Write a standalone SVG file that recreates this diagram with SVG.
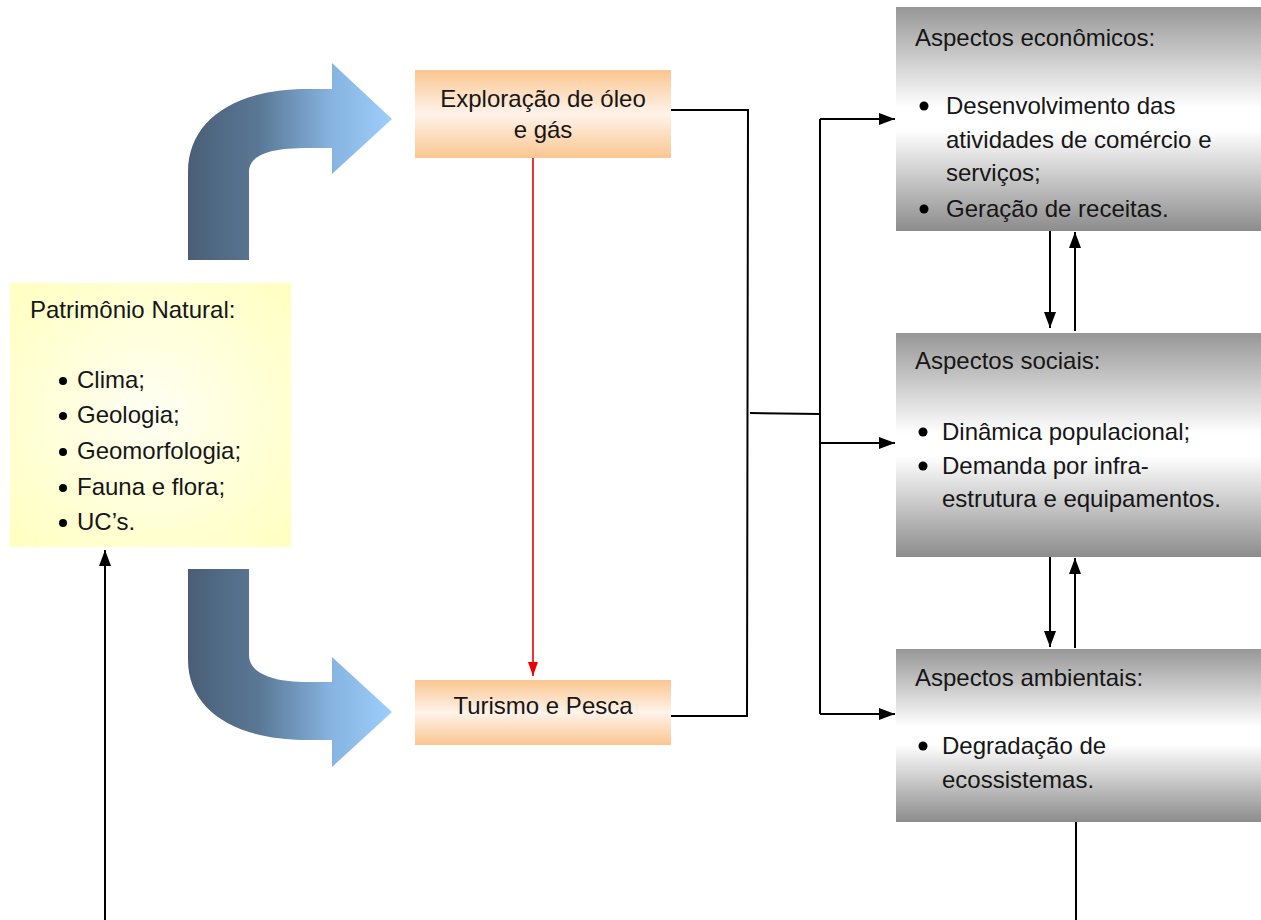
<svg xmlns="http://www.w3.org/2000/svg" width="1261" height="920" viewBox="0 0 1261 920">
  <style>
    text { font-family: "Liberation Sans", Arial, sans-serif; font-size: 24px; fill: #161616; }
    .mid { text-anchor: middle; }
    .wire { fill: none; stroke: #000; stroke-width: 2; }
    .red { fill: none; stroke: #ee0000; stroke-width: 1.6; }
    .dot { fill: #000; }
  </style>
  <defs>
    <linearGradient id="grayFill" x1="0" y1="0" x2="0" y2="1">
      <stop offset="0" stop-color="#979797"/>
      <stop offset="0.45" stop-color="#ffffff"/>
      <stop offset="0.55" stop-color="#ffffff"/>
      <stop offset="1" stop-color="#8c8c8c"/>
    </linearGradient>
    <linearGradient id="orangeFill" x1="0" y1="0" x2="0" y2="1">
      <stop offset="0" stop-color="#fac690"/>
      <stop offset="0.5" stop-color="#fff3ea"/>
      <stop offset="1" stop-color="#fac690"/>
    </linearGradient>
    <radialGradient id="yellowFill" cx="0.5" cy="0.5" r="0.7">
      <stop offset="0" stop-color="#fffff4"/>
      <stop offset="1" stop-color="#ffffc0"/>
    </radialGradient>
    <linearGradient id="blueTop" gradientUnits="userSpaceOnUse" x1="188" y1="0" x2="392" y2="0">
      <stop offset="0" stop-color="#4a5e76"/>
      <stop offset="0.35" stop-color="#5a7896"/>
      <stop offset="0.7" stop-color="#86b3e0"/>
      <stop offset="1" stop-color="#9dcefb"/>
    </linearGradient>
    <marker id="tipSide" viewBox="0 0 10 10" refX="10" refY="5" markerWidth="16" markerHeight="12" markerUnits="userSpaceOnUse" orient="auto" preserveAspectRatio="none">
      <path d="M0,0 L10,5 L0,10 Z" fill="#000"/>
    </marker>
    <marker id="tipRed" viewBox="0 0 10 10" refX="10" refY="5" markerWidth="14" markerHeight="10" markerUnits="userSpaceOnUse" orient="auto" preserveAspectRatio="none">
      <path d="M0,0 L10,5 L0,10 Z" fill="#ee0000"/>
    </marker>
  </defs>

  <!-- bent block arrows -->
  <g id="bend-up">
    <path d="M188,260 L188,172 C188,120 235,89 307,89 L332,89 L332,63 L392,119 L332,174 L332,148 L307,148 C270,148 249,155 249,172 L249,260 Z" fill="url(#blueTop)"/>
  </g>
  <g id="bend-down">
    <path d="M188,569 L249,569 L249,655 C249,672 270,682 307,682 L332,682 L332,657 L392,712 L332,767 L332,740 L307,740 C235,740 188,710 188,660 Z" fill="url(#blueTop)"/>
  </g>

  <!-- connectors -->
  <g id="connectors">
    <polyline class="wire" points="671,110 748,110 747,717"/>
    <line class="wire" x1="671" y1="716" x2="748" y2="716"/>
    <line class="wire" x1="750" y1="413" x2="820" y2="414"/>
    <line class="wire" x1="820" y1="119" x2="820" y2="714"/>
    <line class="wire" x1="820" y1="119" x2="895" y2="119" marker-end="url(#tipSide)"/>
    <line class="wire" x1="820" y1="443" x2="895" y2="443" marker-end="url(#tipSide)"/>
    <line class="wire" x1="820" y1="714" x2="895" y2="714" marker-end="url(#tipSide)"/>
    <line class="red" x1="533" y1="158" x2="533" y2="676" marker-end="url(#tipRed)"/>
    <line class="wire" x1="1050" y1="231" x2="1050" y2="328" marker-end="url(#tipSide)"/>
    <line class="wire" x1="1075" y1="331" x2="1075" y2="232" marker-end="url(#tipSide)"/>
    <line class="wire" x1="1050" y1="557" x2="1050" y2="647" marker-end="url(#tipSide)"/>
    <line class="wire" x1="1075" y1="648" x2="1075" y2="558" marker-end="url(#tipSide)"/>
    <line class="wire" x1="1076" y1="822" x2="1076" y2="920"/>
    <line class="wire" x1="105" y1="920" x2="105" y2="550" marker-end="url(#tipSide)"/>
  </g>

  <!-- natural heritage -->
  <g id="patrimonio">
    <rect x="10" y="283" width="281" height="264" fill="url(#yellowFill)"/>
    <text x="30" y="318">Patrimônio Natural:</text>
    <circle class="dot" cx="63" cy="381" r="4"/>
    <text x="77" y="388">Clima;</text>
    <circle class="dot" cx="63" cy="416" r="4"/>
    <text x="77" y="423">Geologia;</text>
    <circle class="dot" cx="63" cy="452" r="4"/>
    <text x="77" y="459">Geomorfologia;</text>
    <circle class="dot" cx="63" cy="488" r="4"/>
    <text x="77" y="495">Fauna e flora;</text>
    <circle class="dot" cx="63" cy="523" r="4"/>
    <text x="77" y="530">UC’s.</text>
  </g>

  <!-- activities -->
  <g id="exploracao">
    <rect x="415" y="70" width="256" height="88" fill="url(#orangeFill)"/>
    <text class="mid" x="543" y="107">Exploração de óleo</text>
    <text class="mid" x="543" y="138">e gás</text>
  </g>
  <g id="turismo">
    <rect x="415" y="680" width="256" height="65" fill="url(#orangeFill)"/>
    <text class="mid" x="543" y="714">Turismo e Pesca</text>
  </g>

  <!-- impact aspects -->
  <g id="economicos">
    <rect x="896" y="7" width="365" height="224" fill="url(#grayFill)"/>
    <text x="915" y="46">Aspectos econômicos:</text>
    <circle class="dot" cx="924" cy="106" r="4.5"/>
    <text x="946" y="114">Desenvolvimento das</text>
    <text x="946" y="148">atividades de comércio e</text>
    <text x="946" y="181">serviços;</text>
    <circle class="dot" cx="924" cy="209" r="4.5"/>
    <text x="946" y="217">Geração de receitas.</text>
  </g>
  <g id="sociais">
    <rect x="896" y="333" width="365" height="224" fill="url(#grayFill)"/>
    <text x="915" y="369">Aspectos sociais:</text>
    <circle class="dot" cx="923" cy="432" r="4.5"/>
    <text x="942" y="440">Dinâmica populacional;</text>
    <circle class="dot" cx="923" cy="466" r="4.5"/>
    <text x="942" y="474">Demanda por infra-</text>
    <text x="942" y="507">estrutura e equipamentos.</text>
  </g>
  <g id="ambientais">
    <rect x="896" y="649" width="365" height="173" fill="url(#grayFill)"/>
    <text x="915" y="686">Aspectos ambientais:</text>
    <circle class="dot" cx="923" cy="746" r="4.5"/>
    <text x="942" y="754">Degradação de</text>
    <text x="942" y="788">ecossistemas.</text>
  </g>
</svg>
